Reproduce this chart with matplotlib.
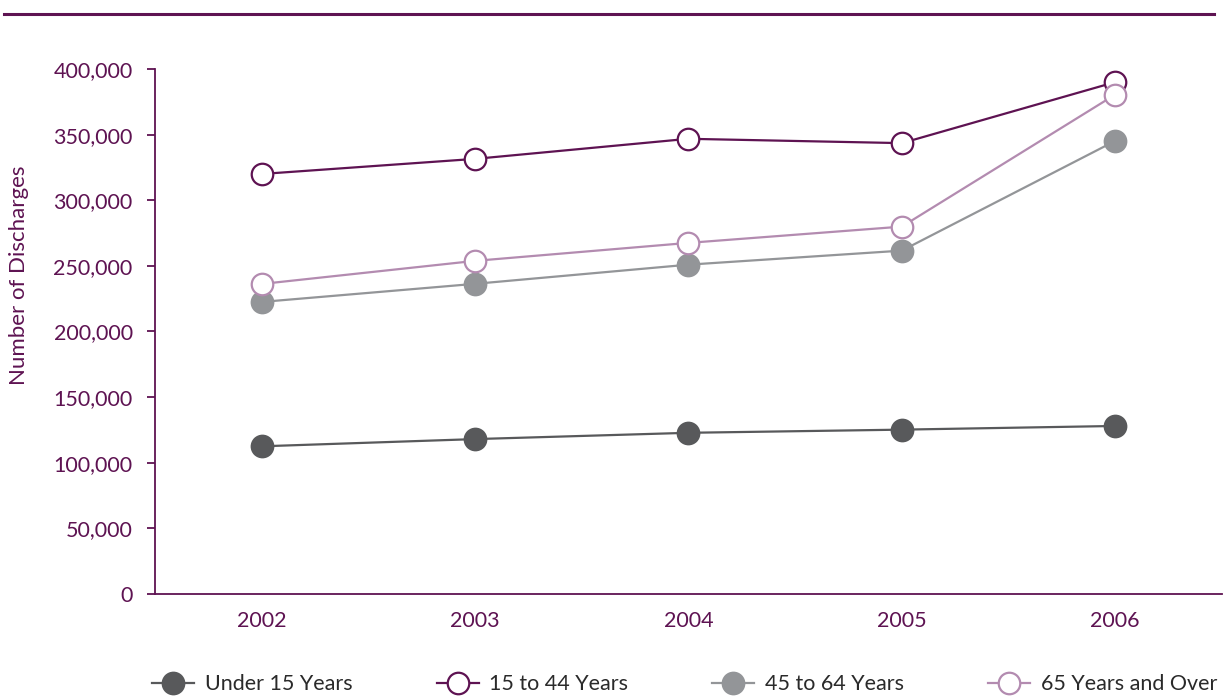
import matplotlib
matplotlib.use('Agg')
import matplotlib.pyplot as plt
from matplotlib.lines import Line2D
from matplotlib.ticker import FuncFormatter

# Hospital discharges by age group, 2002-2006
years = ['2002', '2003', '2004', '2005', '2006']
under_15 = [112500, 118000, 122800, 125200, 128000]
age_15_44 = [320000, 331500, 346800, 343500, 390000]
age_45_64 = [222500, 236300, 250900, 261600, 345200]
age_65_over = [236200, 253800, 267500, 279900, 380500]

purple = '#5e1352'
dark_gray = '#58595b'
mid_gray = '#939598'
light_purple = '#b38bb0'

plt.rcParams['font.family'] = ['Lato', 'DejaVu Sans']

fig = plt.figure(figsize=(12.25, 6.96), dpi=100)
ax = fig.add_axes([0.1265, 0.1466, 0.871, 0.7543])

x = list(range(len(years)))
series = [
    ('Under 15 Years', under_15, dark_gray, dark_gray),
    ('15 to 44 Years', age_15_44, purple, 'white'),
    ('45 to 64 Years', age_45_64, mid_gray, mid_gray),
    ('65 Years and Over', age_65_over, light_purple, 'white'),
]
for label, vals, col, face in series:
    ax.plot(x, vals, color=col, lw=1.6, marker='o', markersize=15.5,
            markerfacecolor=face, markeredgecolor=col, markeredgewidth=1.6,
            label=label, zorder=3)

ax.set_xlim(-0.5, 4.5)
ax.set_ylim(0, 400000)
ax.set_xticks(x)
ax.set_xticklabels(years)
ax.set_yticks(range(0, 400001, 50000))
ax.yaxis.set_major_formatter(FuncFormatter(lambda v, p: f'{int(v):,}'))

for side in ['top', 'right']:
    ax.spines[side].set_visible(False)
for side in ['left', 'bottom']:
    ax.spines[side].set_color(purple)
    ax.spines[side].set_linewidth(1.3)

ax.tick_params(axis='y', colors=purple, labelcolor=purple, length=6, width=1.3,
               labelsize=15.5, pad=10)
ax.tick_params(axis='x', length=0, labelcolor=purple, labelsize=15.5, pad=12)

ax.set_ylabel('Number of Discharges', color=purple, fontsize=16)
ax.yaxis.set_label_coords(-0.118, 0.608)

# rule across the top
fig.add_artist(Line2D([0.003, 0.991], [0.98, 0.98], color=purple, lw=2.2))

handles, labels = ax.get_legend_handles_labels()
fig.legend(handles, labels, loc='center', bbox_to_anchor=(0.559, 0.017), ncol=4,
           frameon=False, fontsize=15.5, handlelength=1.95, handletextpad=0.5,
           columnspacing=3.9, labelcolor='#2a2a2a')

fig.savefig('out.png', dpi=100)
